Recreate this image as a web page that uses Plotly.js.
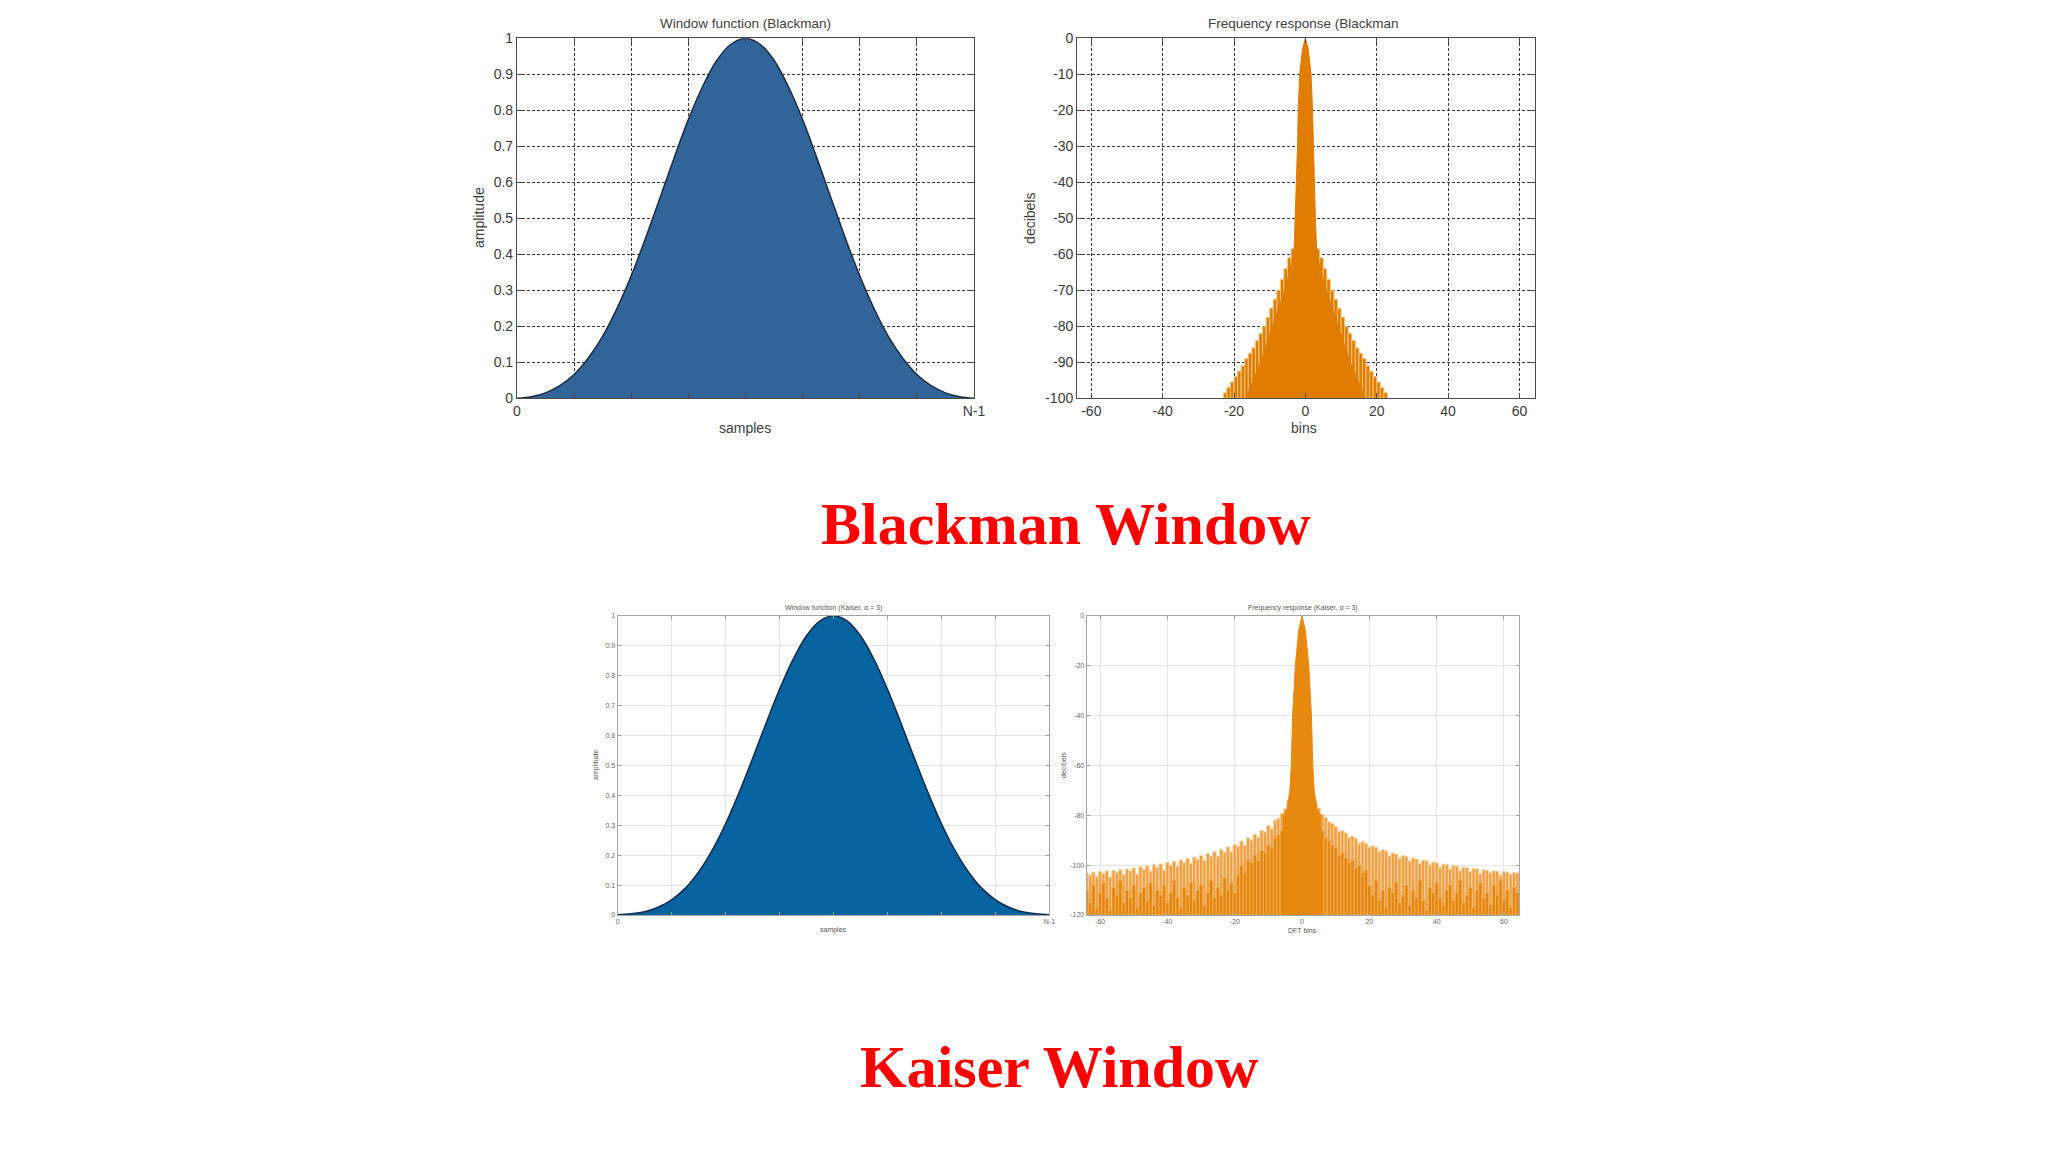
<!DOCTYPE html>
<html>
<head>
<meta charset="utf-8">
<script src="https://cdn.plot.ly/plotly-3.0.1.min.js"></script>
<style>html,body{margin:0;padding:0;background:#fff;}#chart{width:2048px;height:1152px;}</style>
</head>
<body>
<div id="chart"></div>
<script>
// ---------- Blackman window (top-left) ----------
const blackmanSamples = [0,1,2,3,4,5,6,7,8,9,10,11,12,13,14,15,16,17,18,19,20,21,22,23,24,25,26,27,28,29,30,31,32];
const blackmanAmp = [0,0.004,0.015,0.035,0.066,0.112,0.172,0.249,0.34,0.444,0.555,0.667,0.774,0.866,0.939,0.984,1.0,
                     0.984,0.939,0.866,0.774,0.667,0.555,0.444,0.34,0.249,0.172,0.112,0.066,0.035,0.015,0.004,0];
const sampleTickVals = [0,4,8,12,16,20,24,28,32];
const sampleTickText = ['0','','','','','','','','N-1'];

// ---------- Blackman frequency response (top-right) ----------
const blackmanSideBins = [-22.5,-21.5,-20.5,-19.5,-18.5,-17.5,-16.5,-15.5,-14.5,-13.5,-12.5,-11.5,-10.5,-9.5,-8.5,-7.5,-6.5,-5.5,-4.5,-3.5,
                          3.5,4.5,5.5,6.5,7.5,8.5,9.5,10.5,11.5,12.5,13.5,14.5,15.5,16.5,17.5,18.5,19.5,20.5,21.5,22.5];
const blackmanSidePeaks = [-98.5,-97,-95.5,-94,-92.5,-91,-89,-87.5,-86,-84,-82,-80,-77.5,-75,-72.5,-70,-67,-64,-61,-58.5,
                           -58.5,-61,-64,-67,-70,-72.5,-75,-77.5,-80,-82,-84,-86,-87.5,-89,-91,-92.5,-94,-95.5,-97,-98.5];
const blackmanCoreBins = [-16.8,-12.5,-9.2,-5.8,-3.2,-2.8,-2.4,-2.2,-2.0,-1.6,-0.8,0,0.8,1.6,2.0,2.2,2.4,2.8,3.2,5.8,9.2,12.5,16.8];
const blackmanCoreDb   = [-100,-90,-80,-70,-60,-50,-40,-30,-20,-10,-3,0,-3,-10,-20,-30,-40,-50,-60,-70,-80,-90,-100];
const binTickVals = [-60,-40,-20,0,20,40,60];
const binTickText = ['-60','-40','-20','0','20','40','60'];
const dbTickVals = [0,-10,-20,-30,-40,-50,-60,-70,-80,-90,-100];
const dbTickText = ['0','-10','-20','-30','-40','-50','-60','-70','-80','-90','-100'];

// ---------- Kaiser window (bottom-left) ----------
const kaiserSamples = [0,1,2,3,4,5,6,7,8,9,10,11,12,13,14,15,16,17,18,19,20,21,22,23,24,25,26,27,28,29,30,31,32];
const kaiserAmp = [0.001,0.004,0.011,0.026,0.051,0.089,0.144,0.216,0.305,0.409,0.523,0.641,0.754,0.854,0.933,0.983,1.0,
                   0.983,0.933,0.854,0.754,0.641,0.523,0.409,0.305,0.216,0.144,0.089,0.051,0.026,0.011,0.004,0.001];

// ---------- Kaiser frequency response (bottom-right) ----------
const kaiserBins = [-64,-63,-62,-61,-60,-59,-58,-57,-56,-55,-54,-53,-52,-51,-50,-49,-48,-47,-46,-45,-44,-43,-42,-41,-40,
  -39,-38,-37,-36,-35,-34,-33,-32,-31,-30,-29,-28,-27,-26,-25,-24,-23,-22,-21,-20,-19,-18,-17,-16,-15,-14,-13,-12,-11,-10,
  -9,-8,-7,-6,-5,-4,-3,-2,-1,0,1,2,3,4,5,6,7,8,9,10,11,12,13,14,15,16,17,18,19,20,21,22,23,24,25,26,27,28,29,30,31,32,33,
  34,35,36,37,38,39,40,41,42,43,44,45,46,47,48,49,50,51,52,53,54,55,56,57,58,59,60,61,62,63,64];
const kaiserTopDb = [
  -103.2,-104.0,-102.8,-104.6,-102.6,-103.4,-102.3,-104.8,-102.1,-103.0,
  -101.8,-103.9,-101.5,-102.3,-101.1,-103.6,-100.7,-101.6,-100.3,-102.4,
  -99.9,-100.9,-99.5,-102.0,-99.0,-100.0,-98.5,-100.5,-97.9,-98.9,
  -97.4,-99.2,-96.8,-97.7,-96.1,-98.0,-95.4,-96.5,-94.6,-96.4,
  -93.7,-94.8,-92.7,-94.6,-91.7,-92.5,-90.4,-92.0,-89.1,-89.8,
  -87.6,-88.9,-86.1,-86.7,-84.1,-85.4,-82.1,-81.3,-79.2,-77.5,
  -74.0,-72.0,-72.0,-72.0,
  -72.0,
  -72.0,-72.0,-72.0,-74.5,-77.2,-79.6,-80.9,-82.6,-83.2,-84.6,
  -86.4,-86.2,-87.1,-88.9,-88.4,-89.2,-91.2,-90.5,-91.3,-92.8,
  -92.3,-92.8,-94.6,-93.8,-94.3,-96.2,-95.1,-95.5,-97.3,-96.2,
  -96.5,-98.3,-97.1,-97.5,-99.3,-98.0,-98.2,-99.9,-98.8,-99.1,
  -101.0,-99.6,-99.8,-101.5,-100.2,-100.4,-102.2,-100.8,-101.0,-102.6,
  -101.3,-101.5,-103.3,-101.8,-102.0,-103.1,-102.3,-102.4,-104.0,-102.6,
  -102.8,-103.7,-102.9,-103.1];
const kaiserLowDb = [
  -110,-115,-108,-117,-111,-107,-113,-118,-109,-112,-106,-115,-110,-113,-108,-117,-111,-109,-114,-107,
  -116,-110,-112,-108,-115,-111,-106,-113,-117,-109,-112,-107,-114,-110,-108,-116,-111,-106,-113,-109,
  -112,-105,-110,-107,-111,
  -104,-100,-103,-98,-99,-96,-98,-94,-95,-92,-93,-89,-88,-86,-84,-80,-75,-75,-75,-75,
  -75,-75,-75,-80,-84,-86,-89,-90,-92,-93,-96,-95,-97,-99,-98,-101,-100,-103,-102,
  -108,-112,-106,-114,-110,-117,-109,-111,-107,-115,-112,-108,-116,-110,-113,-106,-114,-118,-109,-111,
  -107,-113,-116,-110,-108,-114,-111,-106,-115,-112,-109,-117,-110,-107,-113,-111,-116,-108,-112,-106,
  -114,-110,-117,-109,-111];
const kaiserLobeBins = [-5.5,-5.5,-4.5,-3.6,-3.2,-2.8,-2.0,-1.0,0,1.0,2.0,2.8,3.2,3.6,4.5,5.5,5.5];
const kaiserLobeDb   = [-120,-80,-78,-70,-60,-40,-20,-6,0,-6,-20,-40,-60,-70,-78,-80,-120];
const kaiserDbTickVals = [0,-20,-40,-60,-80,-100,-120];
const kaiserDbTickText = ['0','-20','-40','-60','-80','-100','-120'];

// ---------- headings ----------
const headings = ['Blackman Window', 'Kaiser Window'];

const BLACKMAN_BASE = -100, KAISER_BASE = -120;

const traces = [
  {type:'bar', x: blackmanSideBins, y: blackmanSidePeaks.map(v => v - BLACKMAN_BASE), base: BLACKMAN_BASE, width: 1,
   marker:{color:'#E07C00', line:{color:'#F6C47F', width:1}}, xaxis:'x2', yaxis:'y2', hoverinfo:'skip'},
  {type:'bar', x: kaiserBins, y: kaiserTopDb.map(v => v - KAISER_BASE), base: KAISER_BASE, width: 1,
   marker:{color:'#F0A043', line:{color:'#F9D2A0', width:1}}, xaxis:'x4', yaxis:'y4', hoverinfo:'skip'},
  {type:'bar', x: kaiserBins, y: kaiserLowDb.map(v => v - KAISER_BASE), base: KAISER_BASE, width: 1,
   marker:{color:'#E5850C', line:{color:'#F2B466', width:0.8}}, xaxis:'x4', yaxis:'y4', hoverinfo:'skip'},
  {type:'scatter', mode:'lines', x: blackmanSamples, y: blackmanAmp, fill:'tozeroy', fillcolor:'#31659A',
   line:{color:'#1b2d45', width:1.5, shape:'spline'}, xaxis:'x', yaxis:'y', hoverinfo:'skip'},
  {type:'scatter', mode:'lines', x: blackmanCoreBins, y: blackmanCoreDb, fill:'toself', fillcolor:'#E07C00',
   line:{color:'#E07C00', width:1}, xaxis:'x2', yaxis:'y2', hoverinfo:'skip'},
  {type:'scatter', mode:'lines', x: kaiserSamples, y: kaiserAmp, fill:'tozeroy', fillcolor:'#0763A0',
   line:{color:'#0b2c4c', width:1.5, shape:'spline'}, xaxis:'x3', yaxis:'y3', hoverinfo:'skip'},
  {type:'scatter', mode:'lines', x: kaiserLobeBins, y: kaiserLobeDb, fill:'toself', fillcolor:'#E8890F',
   line:{color:'#E8890F', width:1}, xaxis:'x4', yaxis:'y4', hoverinfo:'skip'}
];

const FONT = 'Liberation Sans, Arial, sans-serif';
function topAxis(extra){
  return Object.assign({showline:true, linecolor:'#4a4a4a', linewidth:1, mirror:'ticks', ticks:'inside', ticklen:5,
    tickcolor:'#4a4a4a', showgrid:true, gridcolor:'#3a3a3a', griddash:'3px,2px', gridwidth:1, zeroline:false,
    tickfont:{family:FONT, size:14, color:'#3a3a3a'}, fixedrange:true}, extra);
}
function botAxis(extra){
  return Object.assign({showline:true, linecolor:'#a5a5a5', linewidth:1, mirror:'ticks', ticks:'inside', ticklen:3,
    tickcolor:'#999', showgrid:true, gridcolor:'#e4e4e4', gridwidth:1, zeroline:false,
    tickfont:{family:FONT, size:7, color:'#666'}, fixedrange:true}, extra);
}
function note(text, x, y, size, color, angle){
  return {text:text, x:x, y:y, xref:'paper', yref:'paper', xanchor:'center', yanchor:'middle', showarrow:false,
          textangle:angle||0, font:{family:FONT, size:size, color:color}};
}

const layout = {
  width:2048, height:1152, margin:{l:0,r:0,t:0,b:0}, paper_bgcolor:'#fff', plot_bgcolor:'#fff',
  showlegend:false, barmode:'overlay', bargap:0, font:{family:FONT, color:'#333'},
  xaxis: topAxis({domain:[0.2524,0.4756], anchor:'y', range:[0,32], tickvals:sampleTickVals, ticktext:sampleTickText}),
  yaxis: topAxis({domain:[0.6543,0.9668], anchor:'x', range:[0,1], dtick:0.1, tick0:0}),
  xaxis2: topAxis({domain:[0.5259,0.7494], anchor:'y2', range:[-64,64.3], tickvals:binTickVals, ticktext:binTickText}),
  yaxis2: topAxis({domain:[0.6543,0.9668], anchor:'x2', range:[-100,0], tickvals:dbTickVals, ticktext:dbTickText}),
  xaxis3: botAxis({domain:[0.3016,0.5124], anchor:'y3', range:[0,32], tickvals:sampleTickVals, ticktext:sampleTickText}),
  yaxis3: botAxis({domain:[0.2057,0.4655], anchor:'x3', range:[0,1], dtick:0.1, tick0:0}),
  xaxis4: botAxis({domain:[0.5306,0.7419], anchor:'y4', range:[-64,64.6], tickvals:binTickVals, ticktext:binTickText}),
  yaxis4: botAxis({domain:[0.2057,0.4655], anchor:'x4', range:[-120,0], tickvals:kaiserDbTickVals, ticktext:kaiserDbTickText}),
  annotations: [
    note('Window function (Blackman)', 0.3638, 0.980, 13.5, '#404040'),
    note('amplitude', 0.2339, 0.8108, 14, '#404040', -90),
    note('samples', 0.3638, 0.6285, 14, '#404040'),
    note('Frequency response (Blackman', 0.6367, 0.980, 13.5, '#404040'),
    note('decibels', 0.5029, 0.8108, 14, '#404040', -90),
    note('bins', 0.6367, 0.6285, 14, '#404040'),
    note('Window function (Kaiser, α = 3)', 0.407, 0.4725, 7, '#555'),
    note('amplitude', 0.291, 0.3359, 7, '#555', -90),
    note('samples', 0.407, 0.1927, 7, '#555'),
    note('Frequency response (Kaiser, α = 3)', 0.6362, 0.4725, 7, '#555'),
    note('decibels', 0.519, 0.3359, 7, '#555', -90),
    note('DFT bins', 0.6362, 0.1927, 7, '#555'),
    {text:headings[0], x:0.5205, y:0.5451, xref:'paper', yref:'paper', xanchor:'center', yanchor:'middle', showarrow:false,
     font:{family:'Liberation Serif, Times New Roman, serif', size:60, color:'#FF0000', weight:'bold'}},
    {text:headings[1], x:0.5171, y:0.0738, xref:'paper', yref:'paper', xanchor:'center', yanchor:'middle', showarrow:false,
     font:{family:'Liberation Serif, Times New Roman, serif', size:60, color:'#FF0000', weight:'bold'}}
  ]
};

Plotly.newPlot('chart', traces, layout, {displayModeBar:false, staticPlot:true});
</script>
</body>
</html>
